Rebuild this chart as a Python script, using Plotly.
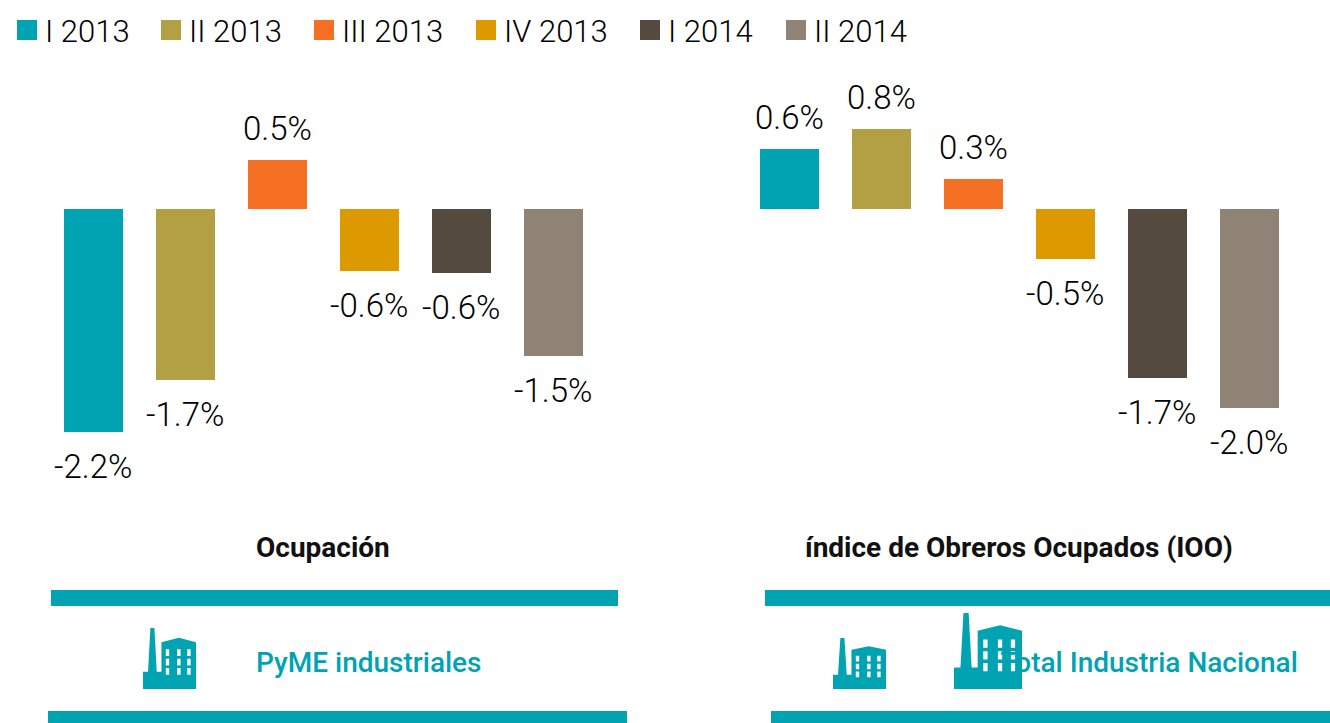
import plotly.graph_objects as go

W, H = 1330, 723
FONT = "Roboto"
periods = ["I 2013", "II 2013", "III 2013", "IV 2013", "I 2014", "II 2014"]
colors = ["#00A3B1", "#B3A044", "#F57023", "#DC9A00", "#544A3F", "#8F8375"]
pyme_values = [-2.23, -1.71, 0.49, -0.62, -0.64, -1.47]
total_values = [0.60, 0.80, 0.30, -0.50, -1.69, -1.99]
pyme_title = "Ocupación"
total_title = "índice de Obreros Ocupados (IOO)"
pyme_name = "PyME industriales"
total_name = "Total Industria Nacional"

TEAL = colors[0]
px = lambda x: x / W
py = lambda y: 1 - y / H

fig = go.Figure()
for xa, vals in (("x", pyme_values), ("x2", total_values)):
    fig.add_trace(go.Bar(x=periods, y=vals, xaxis=xa, yaxis="y",
                         marker=dict(color=colors, line_width=0),
                         width=59 / 92, showlegend=False, hoverinfo="skip"))

# Text that the factory icon must overlap goes in a trace
fig.add_trace(go.Scatter(x=[1149], y=[665], xaxis="x3", yaxis="y3", mode="text",
                         text=[total_name], showlegend=False, hoverinfo="skip",
                         textfont=dict(family=FONT, size=28, weight=500, color=TEAL), cliponaxis=False))

annotations = []
for xr, vals in (("x", pyme_values), ("x2", total_values)):
    for p, v in zip(periods, vals):
        annotations.append(dict(x=p, y=v, xref=xr, yref="y", text=f"{v:.1f}%", showarrow=False,
                                xanchor="center", yanchor="bottom" if v > 0 else "top",
                                yshift=10 if v > 0 else -13,
                                font=dict(family=FONT, size=33, weight=300, color="#000000")))

shapes = []
def rect(x0, y0, x1, y1, color):
    shapes.append(dict(type="rect", xref="paper", yref="paper", x0=px(x0), x1=px(x1),
                       y0=py(y0), y1=py(y1), fillcolor=color, line_width=0, layer="above"))

# legend
legend_x = [17, 161, 314, 476, 640, 786]
for name, col, lx in zip(periods, colors, legend_x):
    rect(lx, 20, lx + 20, 40, col)
    annotations.append(dict(x=px(lx + 26), y=py(32), xref="paper", yref="paper", text=name,
                            showarrow=False, xanchor="left", yanchor="middle",
                            font=dict(family=FONT, size=31, weight=300, color="#000000")))

# bands
rect(51, 590, 618, 606, TEAL)
rect(48, 711, 627, 723, TEAL)
rect(765, 590, 1330, 606, TEAL)
rect(771, 711, 1330, 723, TEAL)

# factory icon, outline in a 158x181 design grid
OUT = [(22,0),(34,0),(41,130),(55,130),(55,42),(107,29),(158,42),(158,181),(0,181),(0,130),(15,130)]
COLS = [(68,78),(102,112),(132,142)]
ROWS = [(63,83),(91,111),(119,139)]
def factory(x0, y0, x1, y1):
    sx, sy = (x1 - x0) / 158, (y1 - y0) / 181
    t = lambda a, b: f"{px(x0 + a * sx):.5f},{py(y0 + b * sy):.5f}"
    d = "M" + " L".join(t(a, b) for a, b in OUT) + " Z"
    for c0, c1 in COLS:
        for r0, r1 in ROWS:
            d += f" M{t(c0,r0)} L{t(c0,r1)} L{t(c1,r1)} L{t(c1,r0)} Z"
    shapes.append(dict(type="path", xref="paper", yref="paper", path=d, fillcolor=TEAL,
                       line_width=0, layer="above"))
factory(143, 628, 196, 689)
factory(833, 638, 886, 689)
factory(954, 613, 1022, 689)

# headings
for txt, cx, cy, col, size, wt in ((pyme_title, 323, 547, "#111111", 28, 700),
                                   (total_title, 1019, 547, "#111111", 28, 700),
                                   (pyme_name, 369, 662, TEAL, 28, 500)):
    annotations.append(dict(x=px(cx), y=py(cy), xref="paper", yref="paper", text=txt,
                            xanchor="center", yanchor="middle", showarrow=False,
                            font=dict(family=FONT, size=size, weight=wt, color=col)))

hidden = dict(visible=False, fixedrange=True)
fig.update_layout(
    width=W, height=H, margin=dict(l=0, r=0, t=0, b=0),
    paper_bgcolor="white", plot_bgcolor="rgba(0,0,0,0)", showlegend=False, bargap=0,
    xaxis=dict(domain=[px(47.25), px(599.25)], type="category", categoryorder="array",
               categoryarray=periods, range=[-0.5, 5.5], anchor="y", **hidden),
    xaxis2=dict(domain=[px(743.25), px(1295.25)], type="category", categoryorder="array",
                categoryarray=periods, range=[-0.5, 5.5], anchor="y", **hidden),
    yaxis=dict(domain=[0, 1], range=[-5.14, 2.09], **hidden),
    xaxis3=dict(domain=[0, 1], range=[0, W], anchor="y3", **hidden),
    yaxis3=dict(domain=[0, 1], range=[H, 0], anchor="x3", **hidden),
    shapes=shapes, annotations=annotations,
)
fig.write_html("out.html", config={"displayModeBar": False},
               post_script="document.body.style.margin='0';document.body.style.overflow='hidden';")
